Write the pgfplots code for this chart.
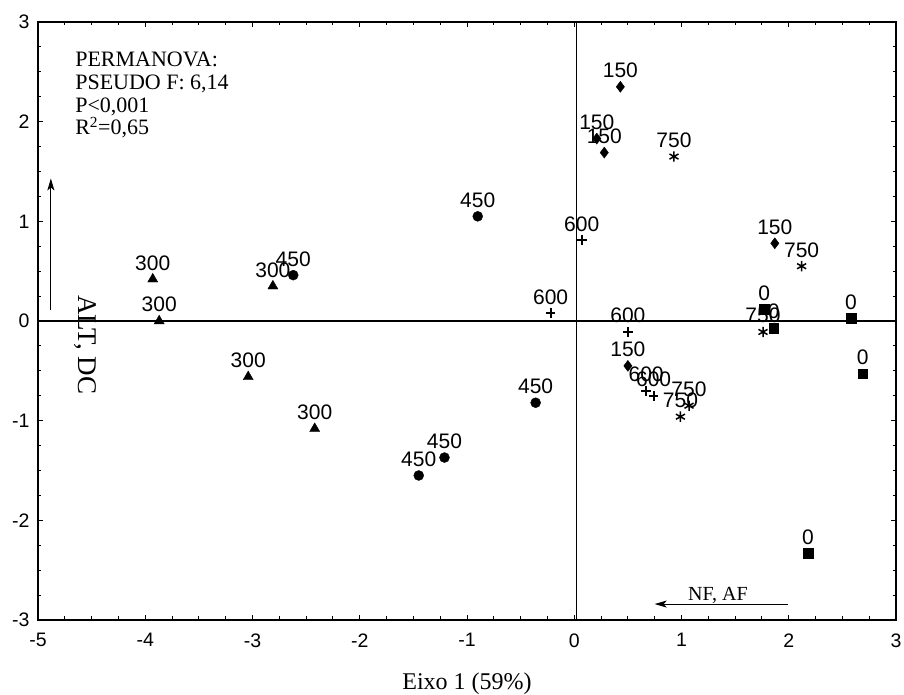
\documentclass[border=0pt]{standalone}
\usepackage{fontspec}
\setmainfont{Liberation Serif}
\setsansfont{Liberation Sans}
\usepackage{pgfplots}
\pgfplotsset{compat=1.18}
\usetikzlibrary{arrows.meta}

\begin{document}
\begin{tikzpicture}
\begin{axis}[
  width=858pt, height=598pt, scale only axis,
  xmin=-5, xmax=3, ymin=-3, ymax=3,
  xtick={-5,...,3}, ytick={-3,...,3},
  minor tick num=3,
  tick align=inside,
  xtick pos=both, ytick pos=both,
  xticklabel pos=lower, yticklabel pos=left,
  major tick length=5pt, minor tick length=3.5pt,
  axis line style={line width=1.4pt},
  every tick/.style={black, line width=1pt},
  /pgf/number format/assume math mode=true,
  tick label style={font=\sffamily\fontsize{19.5}{22}\selectfont},
  xticklabel style={yshift=-10pt},
  yticklabel style={xshift=-5pt},
  xlabel={Eixo 1 (59\%)},
  xlabel style={at={(rel axis cs:0.5,0)}, anchor=base, yshift=-69pt,
    font=\fontsize{24}{26}\selectfont},
  clip=false,
  nodes near coords,
  point meta=explicit symbolic,
  every node near coord/.append style={anchor=base, yshift=9pt, inner sep=0pt,
    font=\sffamily\fontsize{21}{23}\selectfont},
]
\coordinate (bl) at (rel axis cs:0,0);
\coordinate (tr) at (rel axis cs:1,1);

\draw[line width=1.6pt] (axis cs:-5,0) -- (axis cs:3,0);
\draw[line width=1.6pt] (axis cs:0.02,-3) -- (axis cs:0.02,3);

% 300
\addplot[only marks, black, mark=triangle*, mark size=5.8pt] table[meta=lab] {
x y lab
-3.93 0.42 300
-3.87 0.00 300
-2.81 0.35 300
-3.04 -0.56 300
-2.42 -1.08 300
};
% 450
\addplot[only marks, black, mark=*, mark size=5pt] table[meta=lab] {
x y lab
-2.62 0.46 450
-0.90 1.05 450
-0.36 -0.82 450
-1.21 -1.37 450
-1.45 -1.55 450
};
% 150
\addplot[only marks, black, mark=diamond*, mark size=5.5pt] table[meta=lab] {
x y lab
0.43 2.35 150
0.21 1.83 150
0.28 1.69 150
1.87 0.78 150
0.50 -0.45 150
};
% 600
\addplot[only marks, black, mark=+, mark size=4.8pt, mark options={line width=1.8pt}] table[meta=lab] {
x y lab
0.07 0.81 600
-0.22 0.08 600
0.50 -0.11 600
0.67 -0.70 600
0.74 -0.75 600
};
% 750
\addplot[only marks, black, mark=asterisk, mark size=5.2pt, mark options={line width=1.5pt}] table[meta=lab] {
x y lab
0.93 1.65 750
2.12 0.55 750
1.76 -0.11 750
1.07 -0.85 750
0.99 -0.96 750
};
% 0
\addplot[only marks, black, mark=square*, mark size=4.8pt] table[meta=lab] {
x y lab
1.77 0.12 0
1.86 -0.07 0
2.58 0.03 0
2.69 -0.53 0
2.18 -2.33 0
};

\node[anchor=north west, align=left, inner sep=0pt,
  font=\fontsize{22}{22.7}\selectfont] at (axis cs:-4.654,2.70)
  {PERMANOVA:\\PSEUDO F: 6,14\\P<0,001\\R\textsuperscript{2}=0,65};

\draw[line width=0.9pt, -{Stealth[length=12pt, width=7pt, inset=3pt]}]
  (axis cs:-4.88,0.11) -- (axis cs:-4.88,1.43);
\node[rotate=-90, font=\fontsize{27}{29}\selectfont] at (axis cs:-4.56,-0.24) {ALT, DC};

\draw[line width=0.9pt, -{Stealth[length=12pt, width=7pt, inset=3pt]}]
  (axis cs:1.99,-2.84) -- (axis cs:0.75,-2.84);
\node[anchor=base, inner sep=0pt, font=\fontsize{20}{22}\selectfont]
  at (axis cs:1.34,-2.80) {NF, AF};
\end{axis}
\pgfresetboundingbox
\path ([shift={(-38pt,-75pt)}]bl) rectangle ([shift={(8pt,22pt)}]tr);
\end{tikzpicture}
\end{document}
